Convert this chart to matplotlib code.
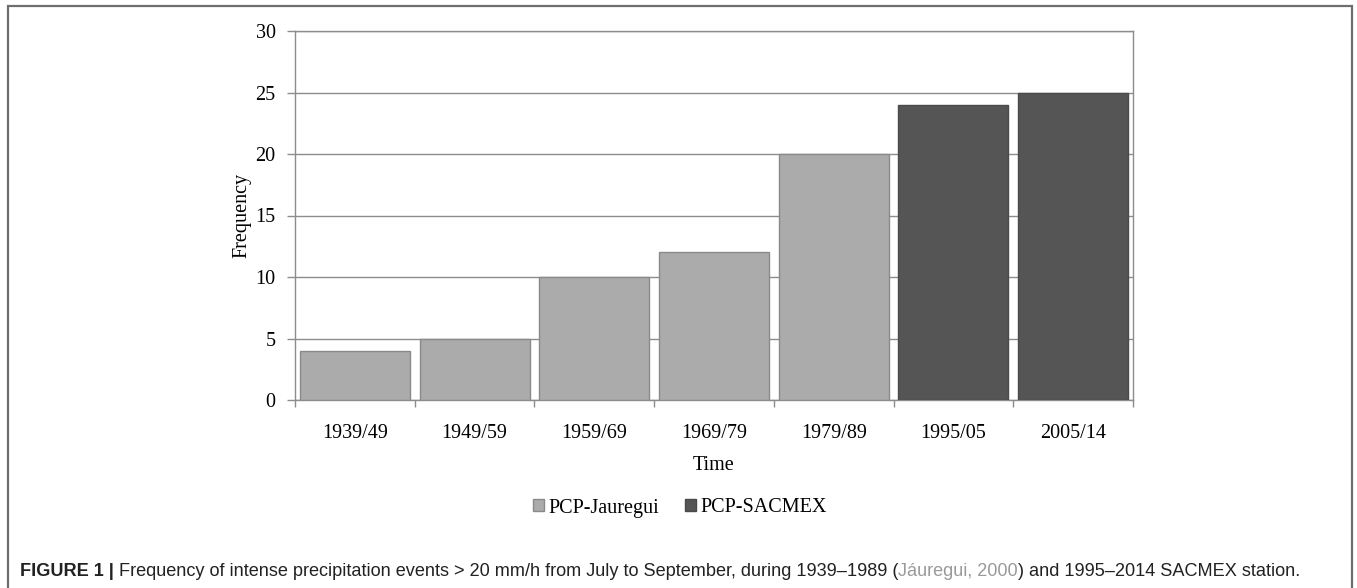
import matplotlib.pyplot as plt
from matplotlib.patches import Rectangle, Patch
import numpy as np

periods = ["1939/49", "1949/59", "1959/69", "1969/79", "1979/89", "1995/05", "2005/14"]
jauregui = [4, 5, 10, 12, 20]
sacmex = [24, 25]

serif = "Liberation Serif"
sans = "Liberation Sans"
grid_gray = "#8c8c8c"

fig = plt.figure(figsize=(13.57, 5.88), dpi=100)
ax = fig.add_axes([295 / 1357, 1 - 400 / 588, (1133 - 295) / 1357, 369 / 588])

x_j = np.arange(len(jauregui))
x_s = np.arange(len(jauregui), len(periods))
ax.bar(x_j, jauregui, width=0.92, color="#ababab", edgecolor="#8a8a8a",
       linewidth=1.0, zorder=3)
ax.bar(x_s, sacmex, width=0.92, color="#555555", edgecolor="#4a4a4a",
       linewidth=1.0, zorder=3)

ax.set_xlim(-0.5, len(periods) - 0.5)
ax.set_ylim(0, 30)
ax.set_yticks(range(0, 31, 5))
ax.yaxis.grid(True, color=grid_gray, linewidth=1.0, zorder=0)
ax.set_axisbelow(True)

# labels at bar centres, tick marks at category boundaries
ax.set_xticks(np.arange(len(periods)))
ax.set_xticklabels(periods, family=serif, fontsize=14.5)
ax.set_xticks(np.arange(len(periods) + 1) - 0.5, minor=True)
ax.tick_params(axis="x", which="major", length=0, pad=17)
ax.tick_params(axis="x", which="minor", length=5, color=grid_gray, width=1.0)
ax.tick_params(axis="y", length=6, color=grid_gray, width=1.0, pad=8,
               labelsize=14.5)
for lab in ax.get_yticklabels():
    lab.set_family(serif)

for side in ["left", "right", "top", "bottom"]:
    ax.spines[side].set_color(grid_gray)
    ax.spines[side].set_linewidth(1.0)

ax.set_ylabel("Frequency", family=serif, fontsize=14.5, labelpad=3)
ax.set_xlabel("Time", family=serif, fontsize=14.5, labelpad=10)

handles = [Patch(facecolor="#ababab", edgecolor="#8a8a8a", label="PCP-Jauregui"),
           Patch(facecolor="#555555", edgecolor="#4a4a4a", label="PCP-SACMEX")]
fig.legend(handles=handles, loc="center", bbox_to_anchor=(0.501, 1 - 508 / 588),
           ncol=2, frameon=False, handlelength=0.55, handleheight=0.55,
           handletextpad=0.2, columnspacing=1.3,
           prop={"family": serif, "size": 14.5})

# outer frame around the figure panel
fig.patches.append(Rectangle((8 / 1357, -0.05), (1352 - 8) / 1357, 1.05 - 6 / 588,
                             transform=fig.transFigure, fill=False,
                             edgecolor="#6e6e6e", linewidth=1.6))

# caption built from pieces with different weights / colours
pieces = [
    ("FIGURE 1 |", "bold", "#222222"),
    (" Frequency of intense precipitation events > 20 mm/h from July to September, during 1939\u20131989 (", "normal", "#222222"),
    ("J\u00e1uregui, 2000", "normal", "#9a9a9a"),
    (") and 1995\u20132014 SACMEX station.", "normal", "#222222"),
]
fig.canvas.draw()
renderer = fig.canvas.get_renderer()
x = 20 / 1357
y = 1 - 576 / 588
for s, weight, color in pieces:
    t = fig.text(x, y, s, family=sans, fontsize=13.1, weight=weight,
                 color=color, va="baseline", ha="left")
    bb = t.get_window_extent(renderer)
    x += bb.width / fig.bbox.width

fig.savefig("out.png", dpi=100)
